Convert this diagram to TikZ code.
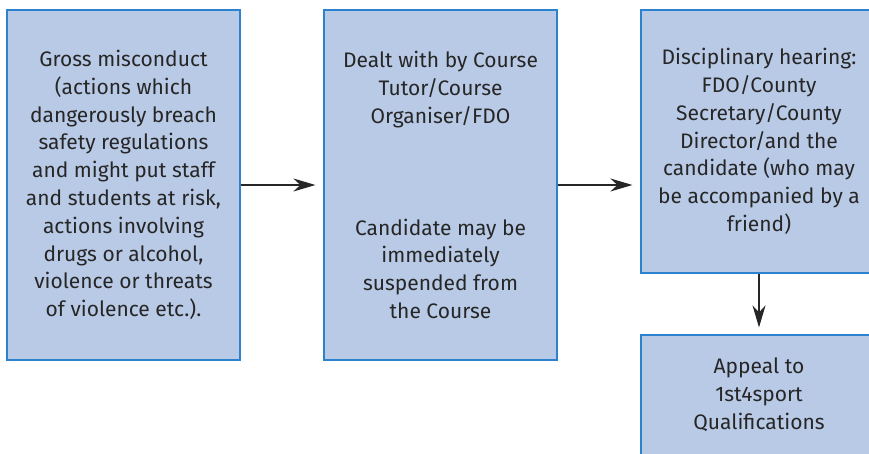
\documentclass[tikz,border=0pt]{standalone}
\usepackage{fontspec}
\setmainfont{Fira Sans}
\usetikzlibrary{positioning,arrows.meta}

\definecolor{boxfill}{RGB}{185,202,230}
\definecolor{boxline}{RGB}{45,130,205}

\tikzset{
    stage/.style={rectangle,draw=boxline,line width=1.2pt,fill=boxfill,
        minimum width=233pt,align=center,inner sep=0pt,
        font=\fontsize{21}{27.8}\selectfont,text=black!85},
    flow/.style={->,line width=1.1pt,black!85,shorten >=8pt}
}

\begin{document}
\begin{tikzpicture}[x=1pt,y=-1pt,>={Stealth[length=22pt,width=13pt,inset=7pt]}]
        \useasboundingbox (0,0) rectangle (869,454);
        \clip (0,0) rectangle (869,454);
        \path
        % left column
        +(123.5,185) node[stage,minimum height=350pt] (gross) {Gross misconduct\\(actions which\\dangerously breach\\safety regulations\\and might put staff\\and students at risk,\\actions involving\\drugs or alcohol,\\violence or threats\\of violence etc.).}
        % middle column
        +(440.5,185) node[stage,minimum height=350pt] (tutor) {Dealt with by Course\\Tutor/Course\\Organiser/FDO\\[84pt]Candidate may be\\immediately\\suspended from\\the Course}
        % right column
        +(759,141.5) node[stage,minimum width=236pt,minimum height=263pt] (hearing) {Disciplinary hearing:\\FDO/County\\Secretary/County\\Director/and the\\candidate (who may\\be accompanied by a\\friend)}
        +(759,395) node[stage,minimum width=236pt,minimum height=120pt] (appeal) {Appeal to\\1st4sport\\Qualifications};

        \draw[flow] (gross)--(tutor);
        \draw[flow] (tutor.east)--(tutor.east -| hearing.west);
        \draw[flow,shorten >=7pt] (hearing)--(appeal);
    \end{tikzpicture}
\end{document}
